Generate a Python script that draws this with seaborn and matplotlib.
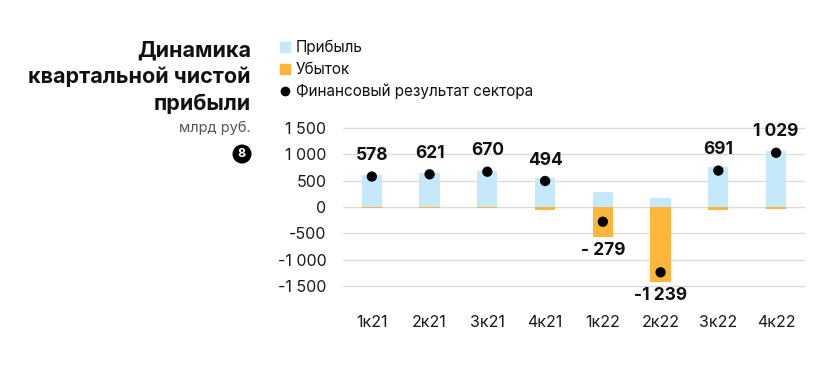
import matplotlib
matplotlib.use("Agg")
import matplotlib.pyplot as plt
import seaborn as sns
import pandas as pd
from matplotlib.patches import Circle
from matplotlib.lines import Line2D

quarters = ["1к21", "2к21", "3к21", "4к21", "1к22", "2к22", "3к22", "4к22"]
profit = [598, 641, 690, 550, 290, 180, 757, 1063]
loss = [-20, -20, -20, -56, -569, -1419, -66, -34]
result = [578, 621, 670, 494, -279, -1239, 691, 1029]
result_labels = ["578", "621", "670", "494", "- 279", "-1 239", "691", "1 029"]
yticks = [1500, 1000, 500, 0, -500, -1000, -1500]
ytick_labels = ["1 500", "1 000", "500", "0", "-500", "-1 000", "-1 500"]

c_profit = "#C3E9FA"
c_loss = "#FDB53C"

sns.set_theme(style="white")
plt.rcParams["font.family"] = ["Inter", "DejaVu Sans"]

df = pd.DataFrame({"q": quarters, "profit": profit, "loss": loss, "result": result})

fig = plt.figure(figsize=(8.4, 3.7), dpi=100)
ax = fig.add_axes([0.4083, 0.2197, 0.55, 0.4416])

sns.barplot(data=df, x="q", y="profit", color=c_profit, width=0.35, ax=ax,
            saturation=1, zorder=2, linewidth=0)
sns.barplot(data=df, x="q", y="loss", color=c_loss, width=0.35, ax=ax,
            saturation=1, zorder=2, linewidth=0)
sns.scatterplot(data=df, x="q", y="result", color="black", s=55, ax=ax,
                zorder=4, edgecolor="none")

ax.set_ylim(-1550, 1550)
ax.set_xlim(-0.5, 7.5)
ax.set_yticks(yticks)
ax.set_yticklabels(ytick_labels)
ax.grid(axis="y", color="#DCDCDC", linewidth=1, zorder=0)
ax.set_axisbelow(True)
for s in ax.spines.values():
    s.set_visible(False)
ax.set_xlabel("")
ax.set_ylabel("")
ax.tick_params(axis="y", length=0, pad=12, labelsize=11.5, labelcolor="#1a1a1a")
ax.tick_params(axis="x", length=0, pad=19, labelsize=11.5, labelcolor="#1a1a1a")

for i, (r, lab, lo) in enumerate(zip(result, result_labels, loss)):
    if r >= 0:
        ax.annotate(lab, (i, r), xytext=(0, 15), textcoords="offset points",
                    ha="center", va="center", fontsize=12.5, fontweight="bold",
                    color="#111111", annotation_clip=False)
    else:
        ax.annotate(lab, (i, lo), xytext=(0, -10), textcoords="offset points",
                    ha="center", va="center", fontsize=12.5, fontweight="bold",
                    color="#111111", annotation_clip=False)

# Title block
title_lines = ["Динамика", "квартальной чистой", "прибыли"]
for k, line in enumerate(title_lines):
    fig.text(251 / 840, 1 - (50 + 27 * k) / 370, line, ha="right", va="center",
             fontsize=15.5, fontweight="bold", color="#111111")
fig.text(251 / 840, 1 - 128 / 370, "млрд руб.", ha="right", va="center",
         fontsize=10.5, color="#555555")

# badge
fig.patches.append(Circle((242, 370 - 154), 9.5, transform=None,
                          facecolor="black", edgecolor="none", figure=fig))
fig.text(242 / 840, 1 - 154 / 370, "8", ha="center", va="center", fontsize=9,
         fontweight="bold", color="white")

# Legend
leg_items = [("Прибыль", c_profit, "s"), ("Убыток", c_loss, "s"),
             ("Финансовый результат сектора", "black", "o")]
for k, (txt, col, mk) in enumerate(leg_items):
    y = 1 - (47 + 22 * k) / 370
    fig.lines.append(Line2D([285 / 840], [y], marker=mk, color=col,
                            markersize=7.5 if mk == "s" else 6, linestyle="none",
                            transform=fig.transFigure, figure=fig))
    fig.text(296 / 840, y, txt, ha="left", va="center", fontsize=11,
             color="#111111")

fig.savefig("out.png", dpi=100)
